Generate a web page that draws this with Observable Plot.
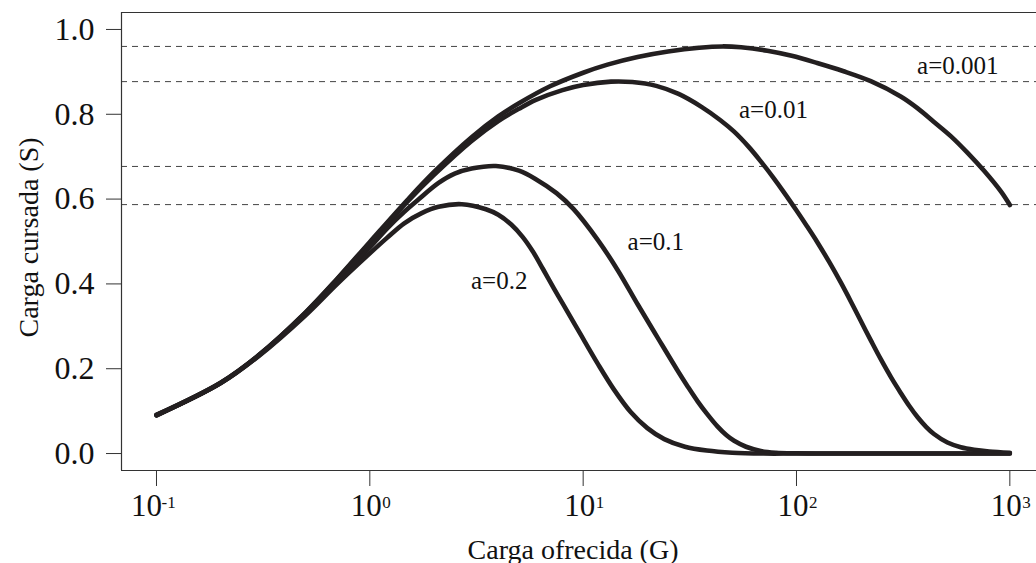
<!DOCTYPE html>
<html><head><meta charset="utf-8">
<script src="https://cdn.jsdelivr.net/npm/d3@7"></script>
<script src="https://cdn.jsdelivr.net/npm/@observablehq/plot@0.6"></script>
<style>html,body{margin:0;padding:0;background:#fff;overflow:hidden}</style>
</head><body><div id="chart"></div>
<script>
// ---- data ----
const seriesNames = ["a=0.001", "a=0.01", "a=0.1", "a=0.2"];

const gA0001 = [0.1, 0.2, 0.3, 0.5, 0.7, 1, 1.5, 2, 3, 4, 5, 7, 10, 13, 18, 25, 35, 45, 55, 73, 95, 125, 165, 223, 308, 370, 441, 530, 634, 759, 908, 1000];
const sA0001 = [0.091, 0.167, 0.231, 0.333, 0.411, 0.499, 0.598, 0.664, 0.746, 0.795, 0.826, 0.866, 0.898, 0.917, 0.935, 0.948, 0.957, 0.960, 0.958, 0.950, 0.938, 0.921, 0.902, 0.878, 0.842, 0.814, 0.782, 0.748, 0.709, 0.666, 0.618, 0.586];

const gA001 = [0.1, 0.2, 0.3, 0.5, 0.7, 1, 1.5, 2, 3, 4, 5, 6, 8, 10, 13.5, 17, 22, 28, 36, 44, 51, 60, 68, 78, 87, 100, 112, 125, 143, 161, 180, 200, 224, 248, 278, 308, 338, 369, 405, 441, 510, 589, 680, 800, 1000];
const sA001 = [0.091, 0.167, 0.231, 0.332, 0.410, 0.496, 0.594, 0.657, 0.737, 0.784, 0.813, 0.834, 0.857, 0.869, 0.877, 0.876, 0.867, 0.848, 0.817, 0.786, 0.759, 0.722, 0.689, 0.650, 0.617, 0.573, 0.536, 0.499, 0.450, 0.404, 0.358, 0.313, 0.265, 0.223, 0.179, 0.143, 0.112, 0.086, 0.063, 0.046, 0.026, 0.015, 0.009, 0.005, 0.002];

const gA01 = [0.1, 0.2, 0.3, 0.5, 0.7, 1, 1.2, 1.45, 1.7, 2.1, 2.5, 3, 3.9, 5, 6, 7.5, 9, 11.7, 14.5, 18, 22.3, 27.6, 31, 34.4, 38, 42.6, 47, 51, 58, 68, 80, 100, 150, 300, 1000];
const sA01 = [0.090, 0.166, 0.230, 0.330, 0.406, 0.486, 0.530, 0.570, 0.600, 0.638, 0.660, 0.672, 0.678, 0.667, 0.647, 0.614, 0.577, 0.504, 0.433, 0.352, 0.274, 0.197, 0.157, 0.123, 0.094, 0.064, 0.043, 0.030, 0.016, 0.006, 0.002, 0.0005, 0, 0, 0];

const gA02 = [0.1, 0.2, 0.3, 0.5, 0.7, 1, 1.2, 1.45, 1.75, 2.1, 2.7, 3.5, 4, 4.6, 5.2, 5.8, 6.5, 7.3, 8.1, 9.7, 11.7, 13.9, 16.7, 20, 24, 30, 38, 50, 70, 100, 300, 1000];
const sA02 = [0.090, 0.166, 0.229, 0.326, 0.399, 0.472, 0.508, 0.543, 0.567, 0.582, 0.588, 0.576, 0.563, 0.540, 0.511, 0.477, 0.434, 0.389, 0.350, 0.282, 0.212, 0.152, 0.098, 0.060, 0.034, 0.016, 0.007, 0.002, 0, 0, 0, 0];

const peakLines = [0.96, 0.877, 0.677, 0.587];

const labelText = ["a=0.001", "a=0.01", "a=0.1", "a=0.2"];
const labelG = [570, 78, 21.9, 4.04];
const labelS = [0.913, 0.811, 0.498, 0.408];

const xTicks = [0.1, 1, 10, 100, 1000];
const xTickExp = ["-1", "0", "1", "2", "3"];
const yTicks = [0, 0.2, 0.4, 0.6, 0.8, 1.0];

const xTitle = "Carga ofrecida (G)";
const yTitle = "Carga cursada (S)";

// ---- build tables ----
const gs = [gA0001, gA001, gA01, gA02];
const ss = [sA0001, sA001, sA01, sA02];
const rows = [];
seriesNames.forEach((name, k) => gs[k].forEach((g, i) => rows.push({a: name, G: g, S: ss[k][i]})));
const labels = labelText.map((t, i) => ({t, G: labelG[i], S: labelS[i]}));
const tickRows = xTicks.map((v, i) => ({v, e: xTickExp[i]}));

const xDomain = [Math.pow(10, -1.164), Math.pow(10, 3.125)];
const yDomain = [-0.04, 1.04];
const font = "'Liberation Serif', 'Times New Roman', serif";
const ink = "#231f20";

const plot = Plot.plot({
  width: 1036, height: 563,
  marginLeft: 121, marginRight: 0, marginTop: 12, marginBottom: 93,
  style: {fontFamily: font, background: "#fff", color: "#222"},
  x: {type: "log", domain: xDomain},
  y: {domain: yDomain},
  marks: [
    Plot.ruleY(peakLines, {stroke: "#444", strokeWidth: 1, strokeDasharray: "6,5"}),
    Plot.line(rows, {x: "G", y: "S", z: "a", stroke: ink, strokeWidth: 4.6, curve: "catmull-rom"}),
    Plot.text(labels, {x: "G", y: "S", text: "t", fontSize: 25, fill: "#111"}),
    // box (left, top, bottom)
    Plot.ruleX([xDomain[0]], {stroke: "#333", strokeWidth: 1.2}),
    Plot.ruleY(yDomain, {stroke: "#333", strokeWidth: 1.2}),
    // axes
    Plot.axisY({ticks: yTicks, tickSize: 15, tickPadding: 12, tickFormat: d => d.toFixed(1), fontSize: 32, label: null, stroke: "#333", fill: "#111"}),
    Plot.axisX({ticks: xTicks, tickSize: 16, tickFormat: () => "", label: null, stroke: "#333"}),
    // x tick labels 10^n
    Plot.text(tickRows, {filter: d => d.e.length === 1, x: "v", frameAnchor: "bottom", text: () => "10", textAnchor: "middle", lineAnchor: "bottom", dx: -3.5, dy: 45, fontSize: 31, fill: "#111"}),
    Plot.text(tickRows, {filter: d => d.e.length === 1, x: "v", frameAnchor: "bottom", text: "e", textAnchor: "start", lineAnchor: "bottom", dx: 12.5, dy: 37, fontSize: 17, fill: "#111"}),
    Plot.text(tickRows, {filter: d => d.e.length > 1, x: "v", frameAnchor: "bottom", text: () => "10", textAnchor: "middle", lineAnchor: "bottom", dx: -10, dy: 45, fontSize: 31, fill: "#111"}),
    Plot.text(tickRows, {filter: d => d.e.length > 1, x: "v", frameAnchor: "bottom", text: "e", textAnchor: "start", lineAnchor: "bottom", dx: 5, dy: 37, fontSize: 17, fill: "#111"}),
    // titles
    Plot.text([xTitle], {frameAnchor: "bottom", textAnchor: "middle", lineAnchor: "bottom", dx: -6, dy: 88, fontSize: 28, fill: "#111"}),
    Plot.text([yTitle], {frameAnchor: "left", rotate: -90, textAnchor: "middle", lineAnchor: "bottom", dx: -84, dy: -4, fontSize: 28, fill: "#111"})
  ]
});
document.getElementById("chart").appendChild(plot);
</script>
</body></html>
